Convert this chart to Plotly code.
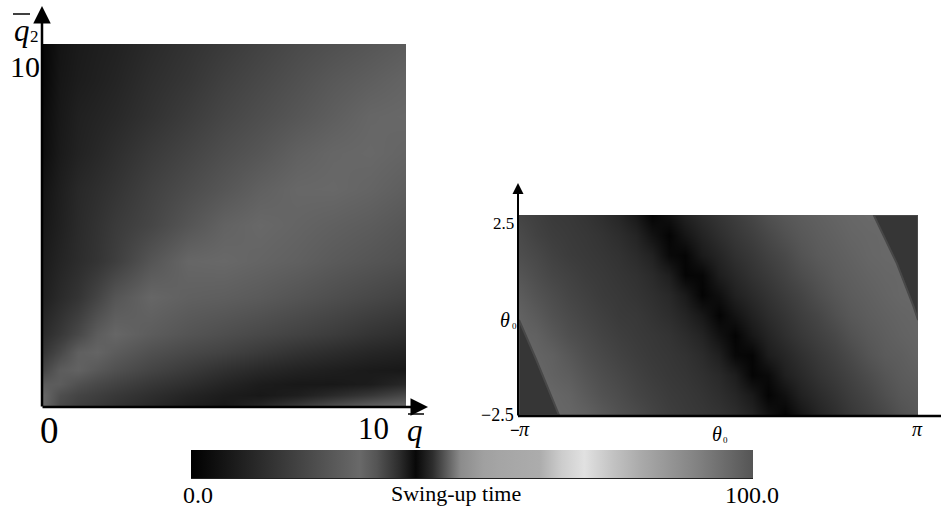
import plotly.graph_objects as go

W, H = 941, 508
TIME_PER_LEVEL = 30 / 105  # grey level to swing-up time

# Left panel: grey levels
q_bar = [0, .5, 1, 1.5, 2, 3, 4, 5, 6, 7, 8, 9, 10]
q2_bar = [10, 9, 8, 7, 6, 5, 4, 3, 2, 1.5, 1, 0.6, 0.3, 0]
left_levels = [
    [5, 20, 26, 30, 33, 42, 50, 58, 66, 74, 80, 86, 92],
    [6, 22, 28, 32, 36, 46, 54, 64, 72, 80, 88, 94, 100],
    [10, 24, 32, 36, 40, 50, 60, 70, 78, 86, 94, 102, 104],
    [12, 26, 34, 40, 46, 58, 68, 78, 86, 96, 102, 104, 100],
    [18, 30, 40, 46, 52, 65, 76, 86, 96, 103, 104, 100, 94],
    [22, 32, 42, 50, 58, 70, 85, 98, 104, 100, 96, 92, 86],
    [26, 36, 44, 52, 62, 85, 102, 104, 100, 96, 90, 85, 80],
    [30, 42, 52, 68, 85, 102, 96, 94, 90, 84, 78, 72, 66],
    [42, 56, 72, 92, 102, 92, 84, 78, 72, 66, 60, 52, 46],
    [52, 72, 95, 100, 92, 80, 72, 66, 58, 50, 44, 38, 34],
    [68, 92, 98, 88, 80, 68, 58, 48, 40, 34, 30, 26, 24],
    [92, 92, 80, 72, 66, 55, 46, 36, 28, 24, 24, 28, 40],
    [105, 78, 68, 62, 56, 46, 36, 28, 24, 30, 42, 55, 72],
    [105, 72, 62, 56, 50, 40, 30, 24, 38, 58, 78, 95, 105],
]

# Right panel: grey levels
theta_fracs = [0, .042, .083, .125, .167, .208, .25, .292, .333, .375, .417, .458, .5,
               .542, .583, .625, .667, .708, .75, .792, .833, .875, .917, .958, 1]
rate_fracs = [1, .9, .8, .7, .6, .5, .4, .3, .2, .1, 0]
right_levels = [
    [68, 63, 58, 56, 52, 46, 38, 24, 4, 17, 33, 44, 53, 61, 70, 80, 87, 92, 96, 100, 103, 105, 105, 105, 105],
    [74, 66, 61, 58, 55, 51, 45, 36, 18, 4, 21, 35, 46, 55, 63, 72, 81, 88, 93, 97, 101, 103, 104, 105, 105],
    [78, 72, 65, 60, 57, 54, 50, 43, 33, 9, 5, 26, 37, 48, 56, 65, 73, 83, 90, 94, 98, 102, 104, 105, 105],
    [85, 77, 70, 65, 60, 57, 53, 49, 42, 30, 5, 6, 29, 40, 50, 58, 67, 76, 84, 91, 95, 99, 102, 103, 105],
    [92, 83, 76, 69, 64, 59, 56, 52, 47, 40, 26, 4, 15, 32, 42, 51, 60, 68, 78, 86, 92, 96, 100, 103, 104],
    [98, 90, 81, 74, 68, 63, 58, 56, 51, 45, 36, 23, 4, 19, 33, 44, 53, 62, 70, 80, 88, 93, 97, 100, 102],
    [100, 97, 88, 79, 73, 67, 62, 58, 55, 51, 44, 35, 17, 4, 23, 36, 47, 56, 64, 72, 82, 89, 94, 98, 101],
    [103, 100, 96, 87, 78, 72, 66, 61, 57, 54, 50, 43, 31, 8, 5, 28, 38, 48, 57, 65, 74, 84, 91, 94, 99],
    [105, 103, 98, 93, 84, 77, 71, 65, 60, 56, 53, 48, 41, 29, 5, 10, 31, 41, 51, 59, 67, 76, 85, 91, 95],
    [105, 104, 103, 99, 90, 82, 76, 69, 64, 59, 56, 52, 46, 38, 25, 4, 16, 33, 43, 52, 61, 69, 79, 87, 91],
    [105, 105, 104, 102, 97, 89, 81, 75, 68, 62, 58, 55, 51, 45, 35, 18, 4, 21, 35, 45, 55, 63, 71, 81, 88],
]

# The two dark corners of the right panel, bounded by the sharp edge seen in the picture
corner_top_theta = [.889, .947, .989, 1, 1, .889]
corner_top_rate = [1, .758, .542, .475, 1, 1]
corner_low_theta = [0, .0435, .10, 0, 0]
corner_low_rate = [.475, .275, 0, 0, .475]
CORNER_GREY = "rgb(54,54,54)"

# Colour bar: position (0-100) and grey level
bar_positions = [0, 10, 20, 30, 33, 37, 40, 43, 48, 52, 55, 62, 66, 70, 75, 80, 90, 100]
bar_greys = [0, 35, 70, 105, 85, 45, 8, 45, 140, 160, 165, 172, 205, 225, 195, 170, 130, 85]

colorscale = [[p / 100, f"rgb({g},{g},{g})"] for p, g in zip(bar_positions, bar_greys)]


def to_time(rows):
    return [[v * TIME_PER_LEVEL for v in r] for r in rows]


def fx(px):
    return px / W


def fy(py):
    return 1 - py / H


fig = go.Figure()
fig.add_trace(go.Heatmap(x=q_bar, y=q2_bar, z=to_time(left_levels), coloraxis="coloraxis",
                         zsmooth="best", xaxis="x", yaxis="y", hoverinfo="skip"))
fig.add_trace(go.Heatmap(x=theta_fracs, y=rate_fracs, z=to_time(right_levels), coloraxis="coloraxis",
                         zsmooth="best", xaxis="x2", yaxis="y2", hoverinfo="skip"))
for tx, ty in ((corner_top_theta, corner_top_rate), (corner_low_theta, corner_low_rate)):
    fig.add_trace(go.Scatter(x=tx, y=ty, mode="lines", fill="toself", fillcolor=CORNER_GREY,
                             line=dict(color="rgb(72,72,72)", width=2), xaxis="x2", yaxis="y2",
                             hoverinfo="skip"))

SERIF = "Liberation Serif"


def text(s, x, y, size, italic=False):
    return dict(text=f"<i>{s}</i>" if italic else s, x=fx(x), y=fy(y), xref="paper", yref="paper",
                showarrow=False, xanchor="center", yanchor="middle",
                font=dict(family=SERIF, size=size, color="black"))


def arrow(x0, y0, x1, y1, width, size):
    return dict(text="", x=fx(x1), y=fy(y1), xref="paper", yref="paper", ax=x0 - x1, ay=y0 - y1,
                axref="pixel", ayref="pixel", showarrow=True, arrowhead=2, arrowsize=size,
                arrowwidth=width, arrowcolor="black", standoff=0)


def line(x0, y0, x1, y1, width, color="black"):
    return dict(type="line", xref="paper", yref="paper", x0=fx(x0), y0=fy(y0), x1=fx(x1), y1=fy(y1),
                line=dict(color=color, width=width), layer="above")


annotations = [
    arrow(42, 408, 42, 6, 2.5, 1.4),
    arrow(41, 407, 428, 407, 2.5, 1.4),
    arrow(518, 417, 518, 183, 2, 1.1),
    text("q", 22, 30, 31, True),
    text("2", 34, 37, 17),
    text("10", 25, 66, 30),
    text("0", 49, 430, 37),
    text("10", 373, 428, 31),
    text("q", 415, 430, 31, True),
    text("2.5", 503, 223, 17),
    text("\u22122.5", 498, 415, 18),
    text("\u03b8", 505, 320, 20, True),
    text("0", 514, 326, 9),
    text("<b>\u2212</b>", 515, 430, 17),
    text("\u03c0", 524, 429, 20, True),
    text("\u03c0", 917, 429, 20, True),
    text("\u03b8", 717, 434, 20, True),
    text("0", 725, 440, 9),
    text("0.0", 198, 495, 24),
    text("Swing-up time", 456, 493, 22),
    text("100.0", 752, 495, 24),
]

shapes = [
    line(13, 14, 30, 14, 1.5),
    line(408, 414, 424, 414, 1.5),
    line(518, 416, 941, 416, 2.5),
    line(191, 478, 753, 478, 2, "#222222"),
]

fig.update_layout(
    width=W, height=H, margin=dict(l=0, r=0, t=0, b=0), paper_bgcolor="white", plot_bgcolor="white",
    showlegend=False,
    xaxis=dict(domain=[fx(42), fx(406)], range=[0, 10], visible=False),
    yaxis=dict(domain=[fy(406), fy(44)], range=[0, 10], visible=False),
    xaxis2=dict(domain=[fx(519), fx(918)], range=[0, 1], visible=False, anchor="y2"),
    yaxis2=dict(domain=[fy(415), fy(215)], range=[0, 1], visible=False, anchor="x2"),
    coloraxis=dict(cmin=0, cmax=100, colorscale=colorscale,
                   colorbar=dict(orientation="h", x=fx(191), xanchor="left", y=fy(450), yanchor="top",
                                 lenmode="pixels", len=562, thicknessmode="pixels", thickness=28,
                                 xpad=0, ypad=0, outlinewidth=0, ticks="", showticklabels=False)),
    annotations=annotations, shapes=shapes,
)

fig.write_html("out.html", config=dict(displayModeBar=False),
               post_script="document.body.style.margin='0';document.documentElement.style.overflow='hidden';")
